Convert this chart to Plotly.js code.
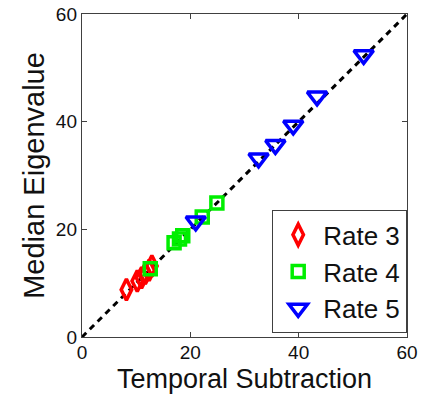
<!DOCTYPE html>
<html>
<head>
<meta charset="utf-8">
<script src="https://cdn.plot.ly/plotly-3.0.1.min.js"></script>
<style>html,body{margin:0;padding:0;background:#fff;}#chart{width:430px;height:394px;}</style>
</head>
<body>
<div id="chart"></div>
<script>
const seriesNames = ["Rate 3", "Rate 4", "Rate 5"];
const rate3X = [8.2, 10.2, 11.0, 11.7, 12.4, 12.9];
const rate3Y = [8.8, 10.4, 11.0, 11.8, 12.4, 13.2];
const rate4X = [12.6, 17.0, 18.0, 18.6, 22.2, 24.9];
const rate4Y = [12.7, 17.5, 18.2, 18.8, 22.3, 24.9];
const rate5X = [21.0, 32.6, 35.7, 39.0, 43.4, 52.0];
const rate5Y = [21.5, 33.2, 35.7, 39.3, 44.7, 52.4];
const identityX = [0, 60];
const identityY = [0, 60];
const tickVals = [0, 20, 40, 60];
const xTitle = "Temporal Subtraction";
const yTitle = "Median Eigenvalue";

const FONT = "Liberation Sans, Arial, sans-serif";
const traces = [
  {x: identityX, y: identityY, mode: "lines", showlegend: false, hoverinfo: "skip",
   line: {color: "#000", width: 3, dash: "6px,5px"}},
  {x: rate3X, y: rate3Y, mode: "markers", name: seriesNames[0],
   marker: {symbol: "diamond-tall-open", size: 15, color: "#ff0000", line: {color: "#ff0000", width: 3.5}}},
  {x: rate4X, y: rate4Y, mode: "markers", name: seriesNames[1],
   marker: {symbol: "square-open", size: 12, color: "#00ee00", line: {color: "#00ee00", width: 3.5}}},
  {x: rate5X, y: rate5Y, mode: "markers", name: seriesNames[2],
   marker: {symbol: "triangle-down-open", size: 17, color: "#0000ff", line: {color: "#0000ff", width: 3.5}}}
];

const axisCommon = {
  range: [0, 60], tickvals: tickVals, ticktext: tickVals.map(String),
  showgrid: false, zeroline: false, showline: true, mirror: "ticks",
  linecolor: "#404040", linewidth: 1.2, ticks: "inside", ticklen: 5, tickcolor: "#404040",
  tickfont: {family: FONT, size: 19, color: "#111"}
};

const layout = {
  width: 430, height: 394,
  margin: {l: 82, r: 23, t: 14, b: 57},
  paper_bgcolor: "#fff", plot_bgcolor: "#fff",
  font: {family: FONT, color: "#111"},
  xaxis: Object.assign({}, axisCommon, {ticklabelstandoff: -2}),
  yaxis: Object.assign({}, axisCommon, {
    title: {text: yTitle, font: {family: FONT, size: 29, color: "#111"}, standoff: 2}
  }),
  annotations: [{
    text: xTitle, xref: "paper", yref: "paper", x: 0.5, y: 0,
    xanchor: "center", yanchor: "bottom", yshift: -58, showarrow: false, borderpad: 0,
    font: {family: FONT, size: 27, color: "#111"}
  }],
  legend: {
    x: 1, y: 0.012, xanchor: "right", yanchor: "bottom",
    bgcolor: "#fff", bordercolor: "#404040", borderwidth: 1.2,
    font: {family: FONT, size: 26, color: "#111"},
    itemwidth: 40, tracegroupgap: 0
  },
  showlegend: true
};

Plotly.newPlot("chart", traces, layout, {displayModeBar: false, staticPlot: true});
</script>
</body>
</html>
